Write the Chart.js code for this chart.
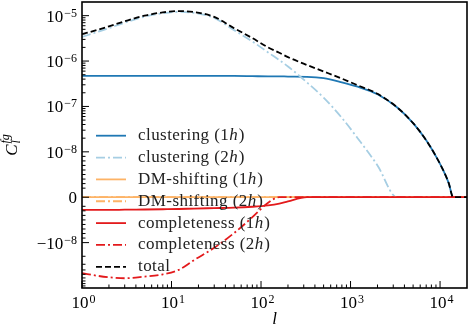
<!DOCTYPE html>
<html>
<head>
<meta charset="utf-8">
<script src="https://cdn.jsdelivr.net/npm/chart.js@4.4.0/dist/chart.umd.min.js"></script>
<style>
  body { margin: 0; background: #fff; }
</style>
</head>
<body>
<canvas id="c" width="469" height="331"></canvas>
<script>
// multipole grid and the spectra
const ell = [1, 1.5, 2, 3, 5, 8, 12, 18, 30, 50, 80, 120, 160, 200, 325, 500, 800, 1200, 2000, 3300, 5000, 7000, 9000, 11000, 12500, 14000, 20000];
const clust1h = [4.7e-7, 4.7e-7, 4.7e-7, 4.7e-7, 4.7e-7, 4.7e-7, 4.7e-7, 4.7e-7, 4.7e-7, 4.7e-7, 4.65e-7, 4.6e-7, 4.6e-7, 4.55e-7, 4.5e-7, 4.2e-7, 3.4e-7, 2.72e-7, 1.86e-7, 9.6e-8, 4.3e-8, 1.8e-8, 9.0e-9, 5.7e-9, 3.1e-9, 0, 0];
const clust2h = [3.4e-6, 4.4e-6, 5.3e-6, 7.0e-6, 9.5e-6, 1.13e-5, 1.21e-5, 1.15e-5, 8.9e-6, 4.8e-6, 2.7e-6, 1.55e-6, 1.05e-6, 7.6e-7, 3.4e-7, 1.56e-7, 5.6e-8, 2.0e-8, 7.0e-9, 0, 0, 0, 0, 0, 0, 0, 0];
const dm1h = [0, 0, 0, 0, 0, 0, 0, 0, 0, 0, 0, 0, 0, 0, 0, 0, 0, 0, 0, 0, 0, 0, 0, 0, 0, 0, 0];
const dm2h = [0, 0, 0, 0, 0, 0, 0, 0, 0, 0, 0, 0, 0, 0, 0, 0, 0, 0, 0, 0, 0, 0, 0, 0, 0, 0, 0];
const comp1h = [-2.8e-9, -2.8e-9, -2.8e-9, -2.75e-9, -2.7e-9, -2.65e-9, -2.6e-9, -2.5e-9, -2.4e-9, -2.3e-9, -2.1e-9, -1.8e-9, -1.4e-9, -0.9e-9, 0, 0, 0, 0, 0, 0, 0, 0, 0, 0, 0, 0, 0];
const comp2h = [-4.7e-8, -5.4e-8, -5.8e-8, -6.1e-8, -5.6e-8, -5.0e-8, -4.0e-8, -2.4e-8, -1.3e-8, -7.9e-9, -4.4e-9, -1.2e-9, 0, 0, 0, 0, 0, 0, 0, 0, 0, 0, 0, 0, 0, 0, 0];
const total = [3.9e-6, 4.9e-6, 5.8e-6, 7.5e-6, 1.0e-5, 1.18e-5, 1.26e-5, 1.2e-5, 9.4e-6, 5.3e-6, 3.2e-6, 2.0e-6, 1.52e-6, 1.22e-6, 8.2e-7, 5.9e-7, 4.1e-7, 2.93e-7, 1.9e-7, 9.6e-8, 4.3e-8, 1.8e-8, 9.0e-9, 5.7e-9, 3.1e-9, 0, 0];

const xExps = [0, 1, 2, 3, 4];
const yMajor = [1e-5, 1e-6, 1e-7, 1e-8, 0, -1e-8];
const yLabels = [['', '\u22125'], ['', '\u22126'], ['', '\u22127'], ['', '\u22128'], ['0', null], ['\u2212', '\u22128']];

const LINTHRESH = 1e-8;
const SERIF = '"Liberation Serif", "DejaVu Serif", serif';

function symT(v) {
  const a = Math.abs(v);
  if (a <= LINTHRESH) return v / LINTHRESH;
  return Math.sign(v) * (1 + Math.log10(a / LINTHRESH));
}
function symInv(t) {
  const a = Math.abs(t);
  if (a <= 1) return t * LINTHRESH;
  return Math.sign(t) * LINTHRESH * Math.pow(10, a - 1);
}

// symmetric log axis like matplotlib's 'symlog'
class SymLogScale extends Chart.LinearScale {
  buildTicks() {
    return yMajor.map(v => ({ value: v }));
  }
  getPixelForValue(value) {
    const t0 = symT(this.min), t1 = symT(this.max);
    return this.getPixelForDecimal((symT(value) - t0) / (t1 - t0));
  }
  getValueForPixel(pixel) {
    const t0 = symT(this.min), t1 = symT(this.max);
    return symInv(t0 + this.getDecimalForPixel(pixel) * (t1 - t0));
  }
}
SymLogScale.id = 'symlog';
SymLogScale.defaults = {};
Chart.register(SymLogScale);

const pts = vals => ell.map((l, i) => ({ x: l, y: vals[i] }));
const DASHDOT = [9, 3, 2, 3];

const series = [
  { label: 'clustering (1h)', data: clust1h, color: '#1f78b4', dash: [] },
  { label: 'clustering (2h)', data: clust2h, color: '#a6cee3', dash: DASHDOT },
  { label: 'DM-shifting (1h)', data: dm1h, color: '#fdb366', dash: [] },
  { label: 'DM-shifting (2h)', data: dm2h, color: '#fdb366', dash: DASHDOT },
  { label: 'completeness (1h)', data: comp1h, color: '#e31a1c', dash: [] },
  { label: 'completeness (2h)', data: comp2h, color: '#e31a1c', dash: DASHDOT },
  { label: 'total', data: total, color: '#000000', dash: [6, 3] }
];

function drawPow(ctx, pre, exp, x, baseline, align) {
  const big = '17px ' + SERIF, small = '12px ' + SERIF;
  const base = exp === null ? pre : pre + '10';
  ctx.font = big;
  const wb = ctx.measureText(base).width;
  ctx.font = small;
  const ws = exp === null ? 0 : ctx.measureText(exp).width + 1;
  const w = wb + ws;
  let x0 = align === 'right' ? x - w : x - w / 2;
  ctx.textAlign = 'left';
  ctx.textBaseline = 'alphabetic';
  ctx.font = big;
  ctx.fillText(base, x0, baseline);
  if (exp !== null) {
    ctx.font = small;
    ctx.fillText(exp, x0 + wb + 1, baseline - 5);
  }
}

const decorPlugin = {
  id: 'decor',
  afterDraw(chart) {
    const ctx = chart.ctx;
    const a = chart.chartArea;
    const xs = chart.scales.x, ys = chart.scales.y;
    ctx.save();
    ctx.strokeStyle = '#000';
    ctx.fillStyle = '#000';

    // x ticks
    ctx.lineWidth = 1;
    xExps.forEach(n => {
      const px = xs.getPixelForValue(Math.pow(10, n));
      ctx.beginPath(); ctx.moveTo(px, a.bottom); ctx.lineTo(px, a.bottom - 7); ctx.stroke();
      for (let k = 2; k <= 9; k++) {
        const v = k * Math.pow(10, n);
        if (v >= xs.max) break;
        const q = xs.getPixelForValue(v);
        ctx.beginPath(); ctx.moveTo(q, a.bottom); ctx.lineTo(q, a.bottom - 3.5); ctx.stroke();
      }
      drawPow(ctx, '', String(n), px + 1.5, 308, 'center');
    });

    // y ticks
    yMajor.forEach((v, i) => {
      const py = ys.getPixelForValue(v);
      ctx.beginPath(); ctx.moveTo(a.left, py); ctx.lineTo(a.left + 7, py); ctx.stroke();
      drawPow(ctx, yLabels[i][0], yLabels[i][1], 77, py + 6, 'right');
    });
    const minors = [];
    [-9, -8, -7, -6, -5].forEach(n => {
      for (let k = 2; k <= 9; k++) {
        minors.push(k * Math.pow(10, n));
        minors.push(-k * Math.pow(10, n));
      }
    });
    minors.forEach(v => {
      if (v <= ys.min || v >= ys.max) return;
      const py = ys.getPixelForValue(v);
      ctx.beginPath(); ctx.moveTo(a.left, py); ctx.lineTo(a.left + 3.5, py); ctx.stroke();
    });

    // frame
    ctx.lineWidth = 1.6;
    ctx.strokeRect(a.left, a.top, a.right - a.left, a.bottom - a.top);

    // axis labels
    ctx.textAlign = 'center';
    ctx.textBaseline = 'alphabetic';
    ctx.font = 'italic 17px ' + SERIF;
    ctx.fillText('l', (a.left + a.right) / 2, 324);

    ctx.save();
    ctx.translate(17, (a.top + a.bottom) / 2);
    ctx.rotate(-Math.PI / 2);
    ctx.textAlign = 'left';
    ctx.font = 'italic 17px ' + SERIF;
    const wC = ctx.measureText('C').width;
    ctx.font = 'italic 12px ' + SERIF;
    const wS = ctx.measureText('fg').width;
    const x0 = -(wC + wS + 1) / 2;
    ctx.font = 'italic 17px ' + SERIF;
    ctx.fillText('C', x0, 0);
    ctx.font = 'italic 12px ' + SERIF;
    ctx.fillText('fg', x0 + wC + 1, -8);
    ctx.fillText('l', x0 + wC + 1, 3);
    ctx.restore();

    // legend
    const ly0 = 135.7, lstep = 21.85;
    ctx.letterSpacing = '0.45px';
    series.forEach((s, i) => {
      const y = ly0 + i * lstep;
      ctx.strokeStyle = s.color;
      ctx.lineWidth = 1.8;
      ctx.setLineDash(s.dash);
      ctx.beginPath(); ctx.moveTo(96, y); ctx.lineTo(126, y); ctx.stroke();
      ctx.setLineDash([]);
      ctx.fillStyle = '#222';
      ctx.textAlign = 'left';
      ctx.textBaseline = 'middle';
      const m = s.label.match(/^(.*\(\d)h\)$/);
      if (m) {
        ctx.font = '17px ' + SERIF;
        ctx.fillText(m[1], 138, y);
        let w = ctx.measureText(m[1]).width;
        ctx.font = 'italic 17px ' + SERIF;
        ctx.fillText('h', 138 + w, y);
        w += ctx.measureText('h').width;
        ctx.font = '17px ' + SERIF;
        ctx.fillText(')', 138 + w + 0.5, y);
      } else {
        ctx.font = '17px ' + SERIF;
        ctx.fillText(s.label, 138, y);
      }
    });
    ctx.restore();
  }
};

new Chart(document.getElementById('c'), {
  type: 'line',
  data: {
    datasets: series.map((s, i) => ({
      label: s.label,
      data: pts(s.data),
      borderColor: s.color,
      borderWidth: 1.8,
      borderDash: s.dash,
      pointRadius: 0,
      fill: false,
      cubicInterpolationMode: 'monotone',
      order: series.length - i
    }))
  },
  options: {
    responsive: false,
    animation: false,
    layout: { padding: { top: 2, right: 2, left: 0, bottom: 0 } },
    plugins: { legend: { display: false }, tooltip: { enabled: false } },
    scales: {
      x: {
        type: 'logarithmic', min: 1, max: 2e4,
        grid: { display: false }, border: { display: false },
        ticks: { display: false },
        afterFit: s => { s.height = 43; }
      },
      y: {
        type: 'symlog', min: -1e-7, max: 2e-5,
        grid: { display: false }, border: { display: false },
        ticks: { display: false, callback: () => '' },
        afterFit: s => { s.width = 82; }
      }
    }
  },
  plugins: [decorPlugin]
});
</script>
</body>
</html>
